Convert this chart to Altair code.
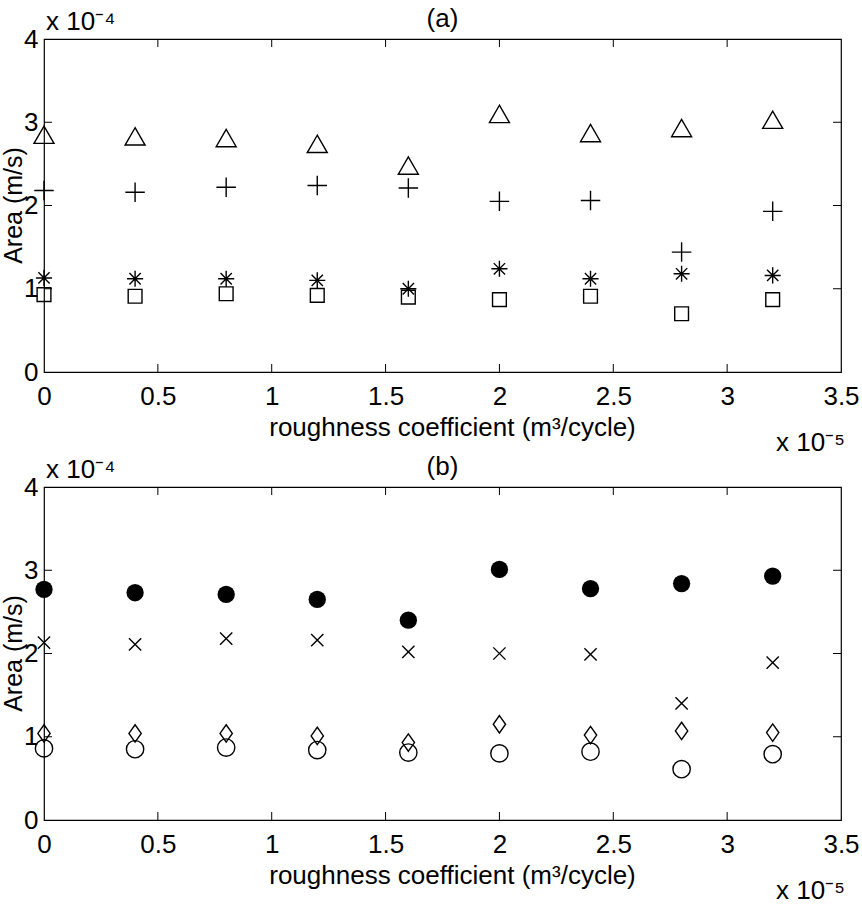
import altair as alt
import pandas as pd

# roughness coefficient (x 10^-5 m^3/cycle)
x_vals = [0, 0.4, 0.8, 1.2, 1.6, 2.0, 2.4, 2.8, 3.2]

# panel (a) series (x 10^-4)
a_triangle = [2.85, 2.83, 2.81, 2.74, 2.48, 3.10, 2.87, 2.93, 3.03]
a_plus = [2.18, 2.16, 2.22, 2.24, 2.21, 2.05, 2.06, 1.44, 1.93]
a_star = [1.13, 1.12, 1.12, 1.10, 1.00, 1.24, 1.12, 1.18, 1.16]
a_square = [0.93, 0.91, 0.94, 0.92, 0.90, 0.87, 0.91, 0.70, 0.87]

# panel (b) series (x 10^-4)
b_dot = [2.77, 2.73, 2.71, 2.65, 2.40, 3.01, 2.78, 2.84, 2.93]
b_x = [2.13, 2.11, 2.18, 2.16, 2.02, 2.00, 1.99, 1.40, 1.89]
b_diamond = [1.04, 1.04, 1.04, 1.01, 0.93, 1.15, 1.02, 1.07, 1.05]
b_circle = [0.86, 0.85, 0.87, 0.84, 0.81, 0.80, 0.82, 0.61, 0.79]

x_ticks = [0, 0.5, 1, 1.5, 2, 2.5, 3, 3.5]
y_ticks = [0, 1, 2, 3, 4]

FONT = "Liberation Sans, Arial, sans-serif"
FS = 26
W, H = 797, 333
TICK = 8

PLUS = "M-1,0L1,0M0,-1L0,1"
STAR = "M-1,0L1,0M0,-1L0,1M-0.7,-0.7L0.7,0.7M-0.7,0.7L0.7,-0.7"
XMARK = "M-1,-1L1,1M-1,1L1,-1"
DIAMOND = "M0,-1.1L0.78,0L0,1.1L-0.78,0Z"

xscale = alt.Scale(domain=[0, 3.5], nice=False, zero=False)
yscale = alt.Scale(domain=[0, 4], nice=False, zero=False)

xaxis = alt.Axis(values=x_ticks, format="~g", title=None,
                 ticks=False, domain=False, grid=False, labelFlush=False,
                 labelPadding=11)
yaxis = alt.Axis(values=y_ticks, format="~g", title=None,
                 ticks=False, domain=False, grid=False, labelFlush=False,
                 labelPadding=6)


def series_layer(vals, shape, size, filled=False, sw=1.4):
    df = pd.DataFrame({"x": x_vals, "y": vals})
    return alt.Chart(df).mark_point(
        shape=shape, size=size, filled=filled, color="black",
        strokeWidth=sw, opacity=1,
    ).encode(
        x=alt.X("x:Q", scale=xscale, axis=xaxis),
        y=alt.Y("y:Q", scale=yscale, axis=yaxis),
    )


def frame_layers():
    xt = pd.DataFrame({"t": x_ticks[1:-1]})
    yt = pd.DataFrame({"t": y_ticks[1:-1]})
    top = alt.Chart(xt).mark_rule(color="black", strokeWidth=1).encode(
        x=alt.X("t:Q", scale=xscale, axis=xaxis), y=alt.value(0), y2=alt.value(TICK))
    bot = alt.Chart(xt).mark_rule(color="black", strokeWidth=1).encode(
        x=alt.X("t:Q", scale=xscale, axis=xaxis), y=alt.value(H - TICK), y2=alt.value(H))
    left = alt.Chart(yt).mark_rule(color="black", strokeWidth=1).encode(
        y=alt.Y("t:Q", scale=yscale, axis=yaxis), x=alt.value(0), x2=alt.value(TICK))
    right = alt.Chart(yt).mark_rule(color="black", strokeWidth=1).encode(
        y=alt.Y("t:Q", scale=yscale, axis=yaxis), x=alt.value(W - TICK), x2=alt.value(W))
    return [top, bot, left, right]


def text_layer(txt, x, y, align="center", baseline="middle", angle=0, fs=FS):
    return alt.Chart(pd.DataFrame({"t": [txt]})).mark_text(
        font=FONT, fontSize=fs, align=align, baseline=baseline, color="black",
        angle=angle,
    ).encode(text="t:N", x=alt.value(x), y=alt.value(y))


def notes(title):
    return [
        text_layer(title, W / 2, -20),
        text_layer("x 10⁻⁴", 2, -9, align="left", baseline="alphabetic"),
        text_layer("Area (m/s)", -30, H / 2, angle=270, fs=25),
        text_layer("roughness coefficient (m³/cycle)", W / 2 + 10, H + 56),
        text_layer("x 10⁻⁵", W + 4, H + 79, align="right", baseline="alphabetic"),
    ]


def panel(title, layers):
    return alt.layer(*layers, *frame_layers(), *notes(title)).properties(
        width=W, height=H,
    )


panel_a = panel("(a)", [
    series_layer(a_triangle, "triangle-up", 400),
    series_layer(a_plus, PLUS, 380),
    series_layer(a_star, STAR, 260),
    series_layer(a_square, "square", 190),
])

panel_b = panel("(b)", [
    series_layer(b_dot, "circle", 300, filled=True),
    series_layer(b_x, XMARK, 150),
    series_layer(b_diamond, DIAMOND, 250),
    series_layer(b_circle, "circle", 300),
])

chart = alt.vconcat(panel_a, panel_b, spacing=115, bounds="flush").properties(
    padding={"left": 1, "top": 5, "right": 0, "bottom": 0},
    background="white",
).configure_view(
    stroke="black", strokeWidth=1.2
).configure_axis(
    labelFont=FONT, labelFontSize=FS, labelColor="black",
)

chart.save("out.html", embed_options={"renderer": "svg", "actions": False})
